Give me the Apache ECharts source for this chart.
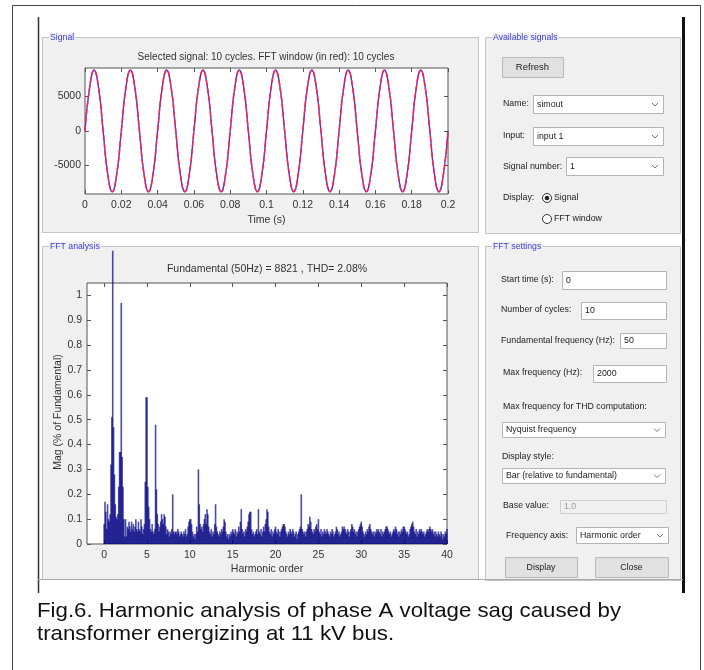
<!DOCTYPE html>
<html>
<head>
<meta charset="utf-8">
<script src="https://cdn.jsdelivr.net/npm/echarts@6/dist/echarts.min.js"></script>
<style>
  html, body { margin: 0; padding: 0; background: #fff; }
  #main { width: 704px; height: 670px; }
</style>
</head>
<body>
<div id="main"></div>
<script>
// signal panel: sampled every 2.5 ms over 10 cycles
var signalStep = 0.0025
var signalValues = [
  0, 6240, 8821, 6240, 0, -6240, -8821, -6240,
  0, 6240, 8821, 6240, 0, -6240, -8821, -6240,
  0, 6240, 8821, 6240, 0, -6240, -8821, -6240,
  0, 6240, 8821, 6240, 0, -6240, -8821, -6240,
  0, 6240, 8821, 6240, 0, -6240, -8821, -6240,
  0, 6240, 8821, 6240, 0, -6240, -8821, -6240,
  0, 6240, 8821, 6240, 0, -6240, -8821, -6240,
  0, 6240, 8821, 6240, 0, -6240, -8821, -6240,
  0, 6240, 8821, 6240, 0, -6240, -8821, -6240,
  0, 6240, 8821, 6240, 0, -6240, -8821, -6240,
  0
]
var signalYTicks = [-5000, 0, 5000]

// FFT panel: one bar every 0.1 harmonic order, 0 .. 40
var fftStep = 0.1
var fftMag = [
  0.08,0.17,0.13,0.06,0.16,0.10,0.09,0.12,0.32,0.51,
  1.18,0.47,0.28,0.16,0.11,0.10,0.12,0.23,0.37,0.37,
  0.97,0.35,0.23,0.10,0.03,0.10,0.03,0.07,0.06,0.09,
  0.07,0.05,0.09,0.06,0.08,0.05,0.07,0.10,0.06,0.05,
  0.09,0.06,0.05,0.10,0.07,0.04,0.06,0.08,0.25,0.59,
  0.59,0.23,0.15,0.10,0.06,0.05,0.08,0.05,0.04,0.06,
  0.48,0.22,0.12,0.08,0.05,0.07,0.09,0.12,0.10,0.08,
  0.12,0.11,0.07,0.04,0.06,0.05,0.03,0.05,0.04,0.06,
  0.20,0.05,0.04,0.05,0.05,0.04,0.06,0.05,0.03,0.04,
  0.05,0.04,0.03,0.05,0.04,0.06,0.03,0.04,0.07,0.09,
  0.10,0.10,0.08,0.05,0.03,0.04,0.02,0.04,0.07,0.05,
  0.30,0.16,0.08,0.06,0.07,0.05,0.08,0.10,0.12,0.08,
  0.14,0.12,0.07,0.05,0.04,0.06,0.03,0.05,0.04,0.08,
  0.16,0.07,0.05,0.04,0.03,0.05,0.04,0.06,0.05,0.07,
  0.10,0.09,0.05,0.03,0.04,0.02,0.04,0.03,0.05,0.04,
  0.06,0.05,0.04,0.06,0.03,0.05,0.04,0.07,0.05,0.09,
  0.14,0.06,0.04,0.05,0.03,0.06,0.05,0.07,0.09,0.12,
  0.13,0.13,0.06,0.04,0.05,0.03,0.04,0.05,0.06,0.04,
  0.14,0.05,0.04,0.06,0.03,0.05,0.07,0.05,0.08,0.10,
  0.14,0.13,0.07,0.05,0.04,0.06,0.03,0.05,0.04,0.06,
  0.07,0.05,0.04,0.06,0.05,0.03,0.05,0.06,0.07,0.08,
  0.08,0.07,0.05,0.04,0.03,0.05,0.04,0.06,0.05,0.04,
  0.06,0.05,0.03,0.04,0.05,0.02,0.04,0.05,0.06,0.07,
  0.20,0.06,0.05,0.04,0.05,0.03,0.05,0.06,0.08,0.07,
  0.11,0.09,0.06,0.05,0.04,0.06,0.05,0.07,0.08,0.06,
  0.10,0.05,0.04,0.06,0.03,0.05,0.04,0.06,0.05,0.04,
  0.06,0.05,0.04,0.03,0.05,0.04,0.06,0.05,0.03,0.04,
  0.05,0.07,0.06,0.04,0.05,0.03,0.04,0.05,0.07,0.06,
  0.07,0.06,0.05,0.04,0.06,0.05,0.03,0.05,0.06,0.08,
  0.07,0.05,0.06,0.04,0.05,0.03,0.05,0.06,0.07,0.08,
  0.09,0.07,0.05,0.04,0.03,0.05,0.04,0.06,0.05,0.07,
  0.08,0.06,0.05,0.04,0.05,0.03,0.05,0.04,0.06,0.05,
  0.06,0.05,0.04,0.06,0.03,0.05,0.04,0.05,0.06,0.07,
  0.07,0.06,0.05,0.04,0.05,0.03,0.04,0.05,0.06,0.05,
  0.07,0.06,0.04,0.05,0.03,0.05,0.04,0.06,0.05,0.07,
  0.07,0.06,0.05,0.04,0.05,0.03,0.04,0.06,0.07,0.08,
  0.09,0.07,0.05,0.04,0.06,0.03,0.05,0.04,0.06,0.05,
  0.06,0.05,0.04,0.05,0.03,0.04,0.05,0.06,0.05,0.06,
  0.07,0.06,0.05,0.06,0.04,0.05,0.03,0.05,0.04,0.03,
  0.05,0.04,0.03,0.05,0.04,0.02,0.04,0.03,0.05,0.04,
  0.06
]
var fftXTicks = [0, 5, 10, 15, 20, 25, 30, 35, 40]
var fftYTicks = [0, 0.1, 0.2, 0.3, 0.4, 0.5, 0.6, 0.7, 0.8, 0.9, 1]

var signalTitle = 'Selected signal: 10 cycles. FFT window (in red): 10 cycles'
var fftTitle = 'Fundamental (50Hz) = 8821 , THD= 2.08%'
var fftYName = 'Mag (% of Fundamental)'
var caption = [
  'Fig.6. Harmonic analysis of phase A voltage sag caused by',
  'transformer energizing at 11 kV bus.'
]

var FONT = '"Liberation Sans", Arial, sans-serif'
var AXIS = '#555'
var TXT = '#333'
var UI_SIZE = 8.8

var signalData = signalValues.map(function (v, i) { return [+(i * signalStep).toFixed(4), v] })
var fftData = fftMag.map(function (v, i) { return [+(i * fftStep).toFixed(1), v] })

// ---- GUI drawing helpers (graphic elements) ----
var g = []
function panel(x, y, w, h, title) {
  g.push({ type: 'rect', z: -10, shape: { x: x + 0.5, y: y + 0.5, width: w, height: h },
    style: { fill: '#f0f0f0', stroke: '#c4c4c4', lineWidth: 1 } })
  g.push({ type: 'text', z: -9, x: x + 7, y: y + 1,
    style: { text: title, fill: '#3b3bd6', fontSize: 8.7, fontFamily: FONT, verticalAlign: 'middle',
      backgroundColor: '#f0f0f0', padding: [1, 1] } })
}
function label(x, y, t, color) {
  g.push({ type: 'text', x: x, y: y,
    style: { text: t, fill: color || '#222', fontSize: UI_SIZE, fontFamily: FONT, verticalAlign: 'middle' } })
}
function field(x, y, w, h, t, disabled) {
  g.push({ type: 'rect', shape: { x: x + 0.5, y: y + 0.5, width: w, height: h },
    style: { fill: disabled ? '#f0f0f0' : '#fff', stroke: disabled ? '#cfcfcf' : '#b4b4b4', lineWidth: 1 } })
  label(x + 4, y + h / 2 + 0.5, t, disabled ? '#9a9a9a' : '#222')
}
function dropdown(x, y, w, h, t) {
  field(x, y, w, h, t)
  var cx = x + w - 8, cy = y + h / 2 + 0.5
  g.push({ type: 'polyline', shape: { points: [[cx - 3, cy - 1.5], [cx, cy + 1.5], [cx + 3, cy - 1.5]] },
    style: { stroke: '#777', lineWidth: 1, fill: null } })
}
function button(x, y, w, h, t, size) {
  g.push({ type: 'rect', shape: { x: x + 0.5, y: y + 0.5, width: w, height: h },
    style: { fill: '#e1e1e1', stroke: '#b8b8b8', lineWidth: 1 } })
  g.push({ type: 'text', x: x + w / 2, y: y + h / 2 + 0.5,
    style: { text: t, fill: '#222', fontSize: size || UI_SIZE, fontFamily: FONT, align: 'center', verticalAlign: 'middle' } })
}
function radio(cx, cy, on, t) {
  g.push({ type: 'circle', shape: { cx: cx, cy: cy, r: 4.5 }, style: { fill: '#fff', stroke: '#333', lineWidth: 1 } })
  if (on) g.push({ type: 'circle', shape: { cx: cx, cy: cy, r: 2.3 }, style: { fill: '#222' } })
  label(cx + 7, cy, t)
}

// frame of the figure
g.push({ type: 'rect', z: -20, shape: { x: 12.5, y: 5.5, width: 688, height: 700 },
  style: { fill: '#fff', stroke: '#444', lineWidth: 1 } })
g.push({ type: 'line', shape: { x1: 38.5, y1: 17, x2: 38.5, y2: 593 }, style: { stroke: '#333', lineWidth: 1.5 } })
g.push({ type: 'rect', shape: { x: 682, y: 17, width: 3, height: 576 }, style: { fill: '#111' } })
g.push({ type: 'line', shape: { x1: 38, y1: 579.5, x2: 683, y2: 579.5 }, style: { stroke: '#a8a8a8', lineWidth: 1 } })

// panels
panel(42, 37, 436, 195, 'Signal')
panel(42, 246, 436, 333, 'FFT analysis')
panel(485, 37, 195, 196, 'Available signals')
panel(485, 246, 195, 334, 'FFT settings')

// available signals widgets
button(502, 57, 61, 20, 'Refresh', 9.5)
label(503, 104, 'Name:')
dropdown(533, 95, 130, 18, 'simout')
label(503, 136, 'Input:')
dropdown(533, 127, 130, 18, 'input 1')
label(503, 167, 'Signal number:')
dropdown(566, 157, 97, 18, '1')
label(503, 198, 'Display:')
radio(547, 198, true, 'Signal')
radio(547, 219, false, 'FFT window')

// FFT settings widgets
label(501, 280, 'Start time (s):')
field(562, 271, 104, 18, '0')
label(501, 310, 'Number of cycles:')
field(581, 302, 85, 17, '10')
label(501, 341, 'Fundamental frequency (Hz):')
field(620, 333, 46, 15, '50')
label(503, 373, 'Max frequency (Hz):')
field(593, 365, 73, 17, '2000')
label(503, 407, 'Max frequency for THD computation:')
dropdown(502, 422, 163, 15, 'Nyquist frequency')
label(502, 457, 'Display style:')
dropdown(502, 468, 163, 15, 'Bar (relative to fundamental)')
label(503, 506, 'Base value:')
field(560, 500, 106, 13, '1.0', true)
label(506, 536, 'Frequency axis:')
dropdown(576, 527, 92, 16, 'Harmonic order')
button(505, 557, 72, 20, 'Display')
button(595, 557, 73, 20, 'Close')

// plot titles and the FFT y-axis name
g.push({ type: 'text', x: 266, y: 57, style: { text: signalTitle, fill: TXT, fontSize: 10, fontFamily: FONT,
  align: 'center', verticalAlign: 'middle' } })
g.push({ type: 'text', x: 267, y: 269, style: { text: fftTitle, fill: TXT, fontSize: 10.5, fontFamily: FONT,
  align: 'center', verticalAlign: 'middle' } })
g.push({ type: 'text', x: 58, y: 412, rotation: Math.PI / 2, style: { text: fftYName, fill: TXT, fontSize: 10.5,
  fontFamily: FONT, align: 'center', verticalAlign: 'middle' } })

// caption
caption.forEach(function (line, i) {
  g.push({ type: 'text', x: 37, y: 611 + i * 23, scaleX: 1.06, style: { text: line, fill: '#111', fontSize: 21, fontFamily: FONT,
    verticalAlign: 'middle' } })
})

function plain(v) { return String(v) }
function mirror(grid, pos, extra) {
  return Object.assign({ type: 'value', gridIndex: grid, position: pos,
    axisLine: { show: false, onZero: false }, axisLabel: { show: false }, splitLine: { show: false },
    axisTick: { inside: true, length: 4, lineStyle: { color: AXIS } } }, extra)
}
function ticks(vals) {
  return { inside: true, length: 4, lineStyle: { color: AXIS }, customValues: vals }
}

var chart = echarts.init(document.getElementById('main'))
chart.setOption({
  animation: false,
  textStyle: { fontFamily: FONT },
  grid: [
    { left: 85, top: 68, width: 363, height: 126, show: true, backgroundColor: '#fff', borderColor: AXIS, borderWidth: 1 },
    { left: 87, top: 283, width: 360, height: 261, show: true, backgroundColor: '#fff', borderColor: AXIS, borderWidth: 1 }
  ],
  xAxis: [
    { type: 'value', gridIndex: 0, min: 0, max: 0.2, interval: 0.02,
      axisLine: { show: false, onZero: false }, splitLine: { show: false },
      axisTick: { inside: true, length: 4, lineStyle: { color: AXIS } },
      axisLabel: { color: TXT, fontSize: 10.5, margin: 6, formatter: plain },
      name: 'Time (s)', nameLocation: 'middle', nameGap: 21, nameTextStyle: { color: TXT, fontSize: 10.5 } },
    mirror(0, 'top', { min: 0, max: 0.2, interval: 0.02 }),
    { type: 'value', gridIndex: 1, min: -2, max: 40,
      axisLine: { show: false, onZero: false }, splitLine: { show: false },
      axisTick: ticks(fftXTicks),
      axisLabel: { color: TXT, fontSize: 10.5, margin: 6, customValues: fftXTicks, formatter: plain },
      name: 'Harmonic order', nameLocation: 'middle', nameGap: 20, nameTextStyle: { color: TXT, fontSize: 10.5 } },
    mirror(1, 'top', { min: -2, max: 40, axisTick: ticks(fftXTicks) })
  ],
  yAxis: [
    { type: 'value', gridIndex: 0, min: -9150, max: 9150,
      axisLine: { show: false, onZero: false }, splitLine: { show: false },
      axisTick: ticks(signalYTicks),
      axisLabel: { color: TXT, fontSize: 10.5, margin: 4, customValues: signalYTicks, formatter: plain } },
    mirror(0, 'right', { min: -9150, max: 9150, axisTick: ticks(signalYTicks) }),
    { type: 'value', gridIndex: 1, min: 0, max: 1.05,
      axisLine: { show: false, onZero: false }, splitLine: { show: false },
      axisTick: ticks(fftYTicks),
      axisLabel: { color: TXT, fontSize: 10.5, margin: 5, customValues: fftYTicks, formatter: plain } },
    mirror(1, 'right', { min: 0, max: 1.05, axisTick: ticks(fftYTicks) })
  ],
  series: [
    { type: 'line', xAxisIndex: 0, yAxisIndex: 0, data: signalData, smooth: true, showSymbol: false,
      lineStyle: { color: '#3030e0', width: 1.3 } },
    { type: 'line', xAxisIndex: 0, yAxisIndex: 0, data: signalData, smooth: true, showSymbol: false,
      lineStyle: { color: '#ff2050', width: 1.5, type: [6, 2] } },
    { type: 'bar', xAxisIndex: 2, yAxisIndex: 2, data: fftData, barWidth: 1.6, clip: false,
      itemStyle: { color: '#000080', opacity: 0.7 } }
  ],
  graphic: g
})
</script>
</body>
</html>
